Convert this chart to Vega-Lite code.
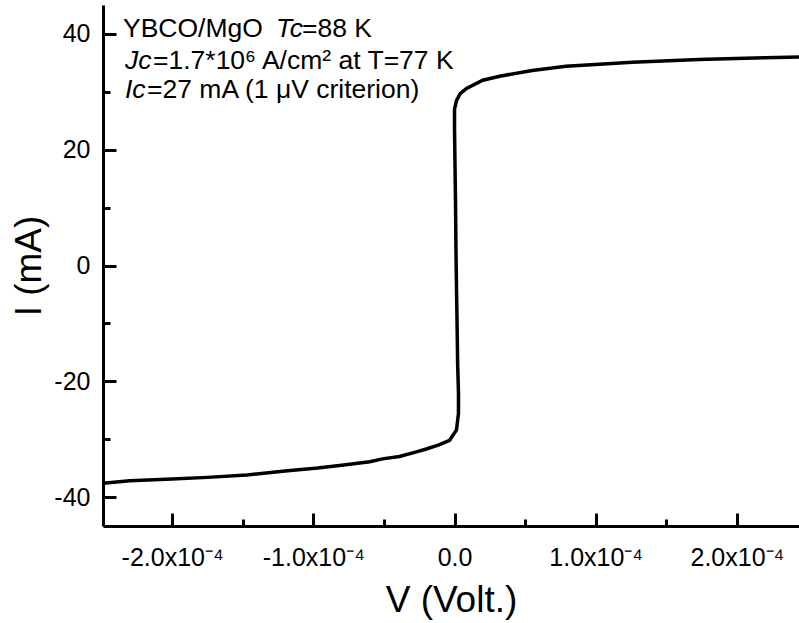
{
  "$schema": "https://vega.github.io/schema/vega-lite/v6.json",
  "autosize": {"type": "none"},
  "padding": {"left": 103, "top": 5, "right": 0, "bottom": 97},
  "width": 696,
  "height": 521,
  "background": "white",
  "config": {
    "view": {"stroke": null},
    "font": "Liberation Sans",
    "axis": {
      "grid": false,
      "domainColor": "black",
      "domainWidth": 3,
      "tickColor": "black",
      "tickWidth": 3,
      "labelColor": "black",
      "titleColor": "black",
      "labelFont": "Liberation Sans",
      "titleFont": "Liberation Sans",
      "labelFontSize": 25,
      "titleFontSize": 37,
      "titleFontWeight": "normal",
      "labelOverlap": false,
      "labelFlush": false
    }
  },
  "resolve": {"axis": {"x": "independent", "y": "independent"}},
  "layer": [
    {
      "data": {"values": [
        {"n": 1, "V": -2.49e-4, "I": -37.6},
        {"n": 2, "V": -2.3e-4, "I": -37.2},
        {"n": 3, "V": -2.0e-4, "I": -36.9},
        {"n": 4, "V": -1.75e-4, "I": -36.6},
        {"n": 5, "V": -1.47e-4, "I": -36.2},
        {"n": 6, "V": -1.2e-4, "I": -35.5},
        {"n": 7, "V": -0.97e-4, "I": -35.0},
        {"n": 8, "V": -0.8e-4, "I": -34.5},
        {"n": 9, "V": -0.6e-4, "I": -33.9},
        {"n": 10, "V": -0.51e-4, "I": -33.4},
        {"n": 11, "V": -0.39e-4, "I": -33.0},
        {"n": 12, "V": -0.27e-4, "I": -32.2},
        {"n": 13, "V": -0.2e-4, "I": -31.7},
        {"n": 14, "V": -0.11e-4, "I": -31.0},
        {"n": 15, "V": -0.035e-4, "I": -30.2},
        {"n": 16, "V": 0.014e-4, "I": -28.4},
        {"n": 17, "V": 0.028e-4, "I": -25.5},
        {"n": 18, "V": 0.028e-4, "I": -22.0},
        {"n": 19, "V": 0.022e-4, "I": -17.0},
        {"n": 20, "V": 0.018e-4, "I": -10.0},
        {"n": 21, "V": 0.014e-4, "I": -4.0},
        {"n": 22, "V": 0.01e-4, "I": 3.0},
        {"n": 23, "V": 0.007e-4, "I": 11.0},
        {"n": 24, "V": 0.003e-4, "I": 18.0},
        {"n": 25, "V": 0.0, "I": 23.5},
        {"n": 26, "V": 0.0, "I": 27.0},
        {"n": 27, "V": 0.014e-4, "I": 28.5},
        {"n": 28, "V": 0.04e-4, "I": 29.7},
        {"n": 29, "V": 0.085e-4, "I": 30.6},
        {"n": 30, "V": 0.2e-4, "I": 32.0},
        {"n": 31, "V": 0.32e-4, "I": 32.7},
        {"n": 32, "V": 0.55e-4, "I": 33.7},
        {"n": 33, "V": 0.79e-4, "I": 34.4},
        {"n": 34, "V": 1.26e-4, "I": 35.1},
        {"n": 35, "V": 1.73e-4, "I": 35.6},
        {"n": 36, "V": 2.2e-4, "I": 35.9},
        {"n": 37, "V": 2.44e-4, "I": 36.0}
      ]},
      "mark": {"type": "line", "color": "black", "strokeWidth": 3.5, "clip": true},
      "encoding": {
        "x": {
          "field": "V", "type": "quantitative",
          "scale": {"domain": [-2.49e-4, 2.44e-4], "nice": false, "zero": false},
          "axis": {
            "orient": "bottom",
            "title": "V (Volt.)",
            "values": [-2e-4, -1e-4, 0, 1e-4, 2e-4],
            "tickSize": -13,
            "labelExpr": "datum.value == 0 ? '0.0' : replace(format(datum.value*1e4, '.1f'), '−', '-') + 'x10⁻⁴'",
            "labelPadding": 32,
            "titlePadding": 12
          }
        },
        "y": {
          "field": "I", "type": "quantitative",
          "scale": {"domain": [-45, 45], "nice": false, "zero": false},
          "axis": {
            "orient": "left",
            "title": "I (mA)",
            "values": [-40, -20, 0, 20, 40],
            "tickSize": -13,
            "labelExpr": "replace(datum.label, '−', '-')",
            "labelPadding": 26,
            "titlePadding": 5
          }
        },
        "order": {"field": "n"}
      }
    },
    {
      "mark": {"type": "rule", "color": "black", "strokeWidth": 3},
      "encoding": {"y": {"datum": 45, "axis": null}}
    },
    {
      "data": {"values": [
        {"t": "YBCO/MgO", "V": -2.3484e-4, "I": 39.4},
        {"t": "=88 K", "V": -1.0804e-4, "I": 39.4},
        {"t": "=1.7*10⁶ A/cm² at T=77 K", "V": -2.1358e-4, "I": 34.0},
        {"t": "=27 mA (1 μV criterion)", "V": -2.1783e-4, "I": 28.9}
      ]},
      "mark": {"type": "text", "align": "left", "baseline": "alphabetic", "fontSize": 26.5, "font": "Liberation Sans", "color": "black"},
      "encoding": {
        "x": {"field": "V", "type": "quantitative",
          "axis": {"orient": "bottom", "values": [-1.5e-4, -5e-5, 5e-5, 1.5e-4], "tickSize": -7, "labels": false, "domain": false, "title": null}},
        "y": {"field": "I", "type": "quantitative",
          "axis": {"orient": "left", "values": [-30, -10, 10, 30], "tickSize": -7, "labels": false, "domain": false, "title": null}},
        "text": {"field": "t"}
      }
    },
    {
      "data": {"values": [
        {"t": "Tc", "V": -1.2648e-4, "I": 39.4},
        {"t": "Jc", "V": -2.3342e-4, "I": 34.0},
        {"t": "Ic", "V": -2.3342e-4, "I": 28.9}
      ]},
      "mark": {"type": "text", "align": "left", "baseline": "alphabetic", "fontSize": 26.5, "font": "Liberation Sans", "fontStyle": "italic", "color": "black"},
      "encoding": {
        "x": {"field": "V", "type": "quantitative", "axis": null},
        "y": {"field": "I", "type": "quantitative", "axis": null},
        "text": {"field": "t"}
      }
    }
  ]
}
